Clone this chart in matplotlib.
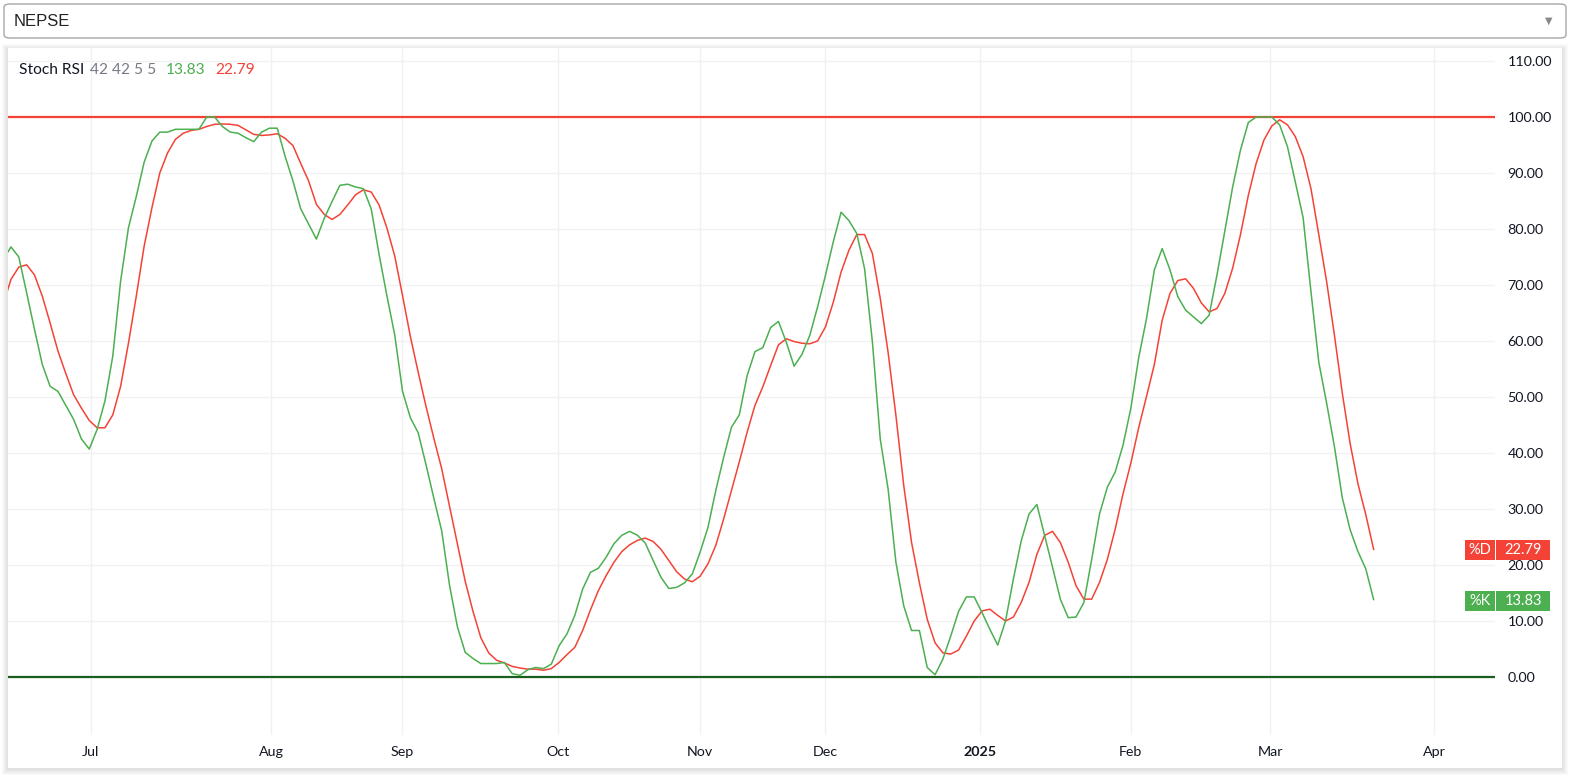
# -*- coding: utf-8 -*-
"""Gráfico Stoch RSI del NEPSE con las líneas %K y %D."""
import numpy as np
import matplotlib.pyplot as plt
from matplotlib.patches import Rectangle, FancyBboxPatch
from matplotlib.transforms import blended_transform_factory

ANCHO = 1571
ALTO = 777

# %K (verde), una barra por sesión; la primera queda cortada por el borde izquierdo
serie_k = [
    74.5, 76.8, 75.0, 68.6, 62.1, 55.8, 51.9, 51.0, 48.5, 46.0,
    42.5, 40.7, 44.2, 49.3, 57.3, 70.7, 80.2, 85.8, 91.9, 95.7,
    97.3, 97.3, 97.8, 97.8, 97.8, 97.8, 100.0, 100.0, 98.3, 97.3,
    97.1, 96.3, 95.6, 97.3, 98.0, 98.0, 93.0, 88.6, 83.6, 80.9,
    78.2, 81.9, 84.9, 87.8, 88.0, 87.5, 87.2, 83.6, 75.5, 68.1,
    61.1, 51.0, 46.3, 43.6, 37.9, 31.9, 26.1, 16.4, 9.0, 4.4,
    3.3, 2.4, 2.4, 2.4, 2.6, 0.6, 0.3, 1.3, 1.7, 1.5,
    2.3, 5.6, 7.7, 11.0, 15.7, 18.7, 19.4, 21.4, 23.8, 25.3,
    26.0, 25.3, 23.9, 20.8, 17.8, 15.8, 16.0, 16.8, 18.4, 22.3,
    26.7, 33.3, 39.2, 44.6, 46.8, 53.8, 58.1, 58.8, 62.4, 63.5,
    59.8, 55.5, 57.6, 61.0, 66.1, 71.7, 77.7, 83.0, 81.5, 79.2,
    72.9, 59.8, 42.5, 33.6, 20.5, 12.7, 8.3, 8.3, 1.7, 0.4,
    3.2, 7.3, 11.7, 14.3, 14.3, 11.5, 8.5, 5.7, 10.0, 17.5,
    24.3, 29.1, 30.8, 25.2, 19.6, 13.9, 10.6, 10.7, 13.3, 21.0,
    29.1, 33.9, 36.6, 41.4, 48.0, 57.0, 64.0, 72.7, 76.5, 72.7,
    67.9, 65.5, 64.3, 63.1, 64.6, 71.8, 79.6, 87.5, 94.1, 99.0,
    100.0, 100.0, 100.0, 98.6, 94.7, 88.4, 82.0, 68.8, 56.2, 48.9,
    41.1, 32.0, 26.3, 22.4, 19.3, 13.83,
]

# %D (rojo)
serie_d = [
    66.5, 71.0, 73.2, 73.6, 71.8, 68.0, 63.2, 58.2, 54.2, 50.4,
    48.0, 45.8, 44.5, 44.5, 46.8, 51.9, 59.6, 68.0, 76.9, 83.8,
    90.0, 93.6, 96.0, 97.1, 97.6, 97.8, 98.3, 98.7, 98.75, 98.7,
    98.5, 97.7, 96.9, 96.7, 96.8, 97.0, 96.2, 94.9, 91.7, 88.6,
    84.4, 82.6, 81.7, 82.6, 84.3, 86.1, 87.0, 86.6, 84.3, 80.2,
    75.2, 68.1, 60.8, 54.4, 48.3, 42.6, 37.2, 30.5, 23.8, 17.1,
    11.7, 7.0, 4.3, 3.0, 2.5, 1.9, 1.6, 1.4, 1.4, 1.2,
    1.5, 2.6, 4.0, 5.3, 8.3, 12.0, 15.4, 18.1, 20.5, 22.4,
    23.6, 24.4, 24.8, 24.2, 22.8, 20.8, 18.8, 17.5, 17.0, 18.0,
    20.2, 23.5, 28.2, 33.3, 38.4, 43.7, 48.5, 51.8, 55.6, 59.3,
    60.4, 59.9, 59.6, 59.5, 60.0, 62.5, 66.9, 72.3, 76.2, 79.0,
    79.0, 75.6, 67.6, 58.0, 46.7, 34.2, 24.0, 16.8, 10.3, 6.1,
    4.3, 4.1, 4.8, 7.3, 10.0, 11.8, 12.1, 11.0, 10.0, 10.7,
    13.3, 16.9, 21.9, 25.3, 26.0, 24.0, 20.5, 16.3, 13.9, 13.9,
    16.9, 21.0, 26.4, 32.7, 38.2, 44.5, 50.1, 55.8, 63.7, 68.5,
    70.8, 71.1, 69.4, 66.8, 65.2, 65.8, 68.5, 73.0, 79.0, 86.0,
    91.7, 95.9, 98.4, 99.5, 98.6, 96.5, 92.9, 87.2, 79.0, 70.6,
    61.0, 50.7, 41.7, 34.5, 29.0, 22.79,
]

meses = ['Jul', 'Aug', 'Sep', 'Oct', 'Nov', 'Dec', '2025', 'Feb', 'Mar', 'Apr']
barra_mes = [11.2, 34.2, 50.9, 70.9, 89.0, 105.0, 124.8, 144.0, 161.8, 182.7]
niveles = list(range(0, 111, 10))
nivel_alto = 100
nivel_bajo = 0
parametros = '42 42 5 5'
ultimo_k = serie_k[-1]
ultimo_d = serie_d[-1]

VERDE = '#4caf50'
ROJO = '#f44336'
TEXTO = '#131722'
FUENTE = ['Lato', 'DejaVu Sans']


def fx(px):
    return px / ANCHO


def fy(py):
    return 1 - py / ALTO


plt.rcParams['font.family'] = FUENTE
fig = plt.figure(figsize=(ANCHO / 100, ALTO / 100), dpi=100)
fig.patch.set_facecolor('white')

# selector superior
selector = FancyBboxPatch((fx(4), fy(38)), fx(1566) - fx(4), fy(4) - fy(38),
                          boxstyle='round,pad=0,rounding_size=0.004',
                          transform=fig.transFigure, facecolor='white',
                          edgecolor='#a6a6a6', lw=1.0)
fig.patches.append(selector)
fig.text(fx(14), fy(21), 'NEPSE', fontsize=12, color='#222222',
         family=['Liberation Sans', 'DejaVu Sans'], va='center', ha='left')
fig.text(fx(1549), fy(21), '▼', fontsize=7, color='#888888',
         family='DejaVu Sans', va='center', ha='center')

# panel del gráfico con una sombra suave, algo más marcada abajo
for k in range(6):
    d = 6 - k
    sombra = Rectangle((fx(8 - d), fy(768 + d + 1)), fx(1562 + d) - fx(8 - d),
                       fy(48 - d + 2) - fy(768 + d + 1), transform=fig.transFigure,
                       facecolor='black', alpha=0.018, edgecolor='none', zorder=-3)
    fig.patches.append(sombra)
panel = Rectangle((fx(8), fy(768)), fx(1562) - fx(8), fy(48) - fy(768),
                  transform=fig.transFigure, facecolor='white',
                  edgecolor='none', zorder=-2)
fig.patches.append(panel)

ax = fig.add_axes([fx(8), fy(735), fx(1495) - fx(8), fy(48) - fy(735)])
ax.set_facecolor('none')
x = np.arange(len(serie_k))
ax.set_xlim(0.62, 190.5)
ax.set_ylim(-10.36, 112.32)

ax.axhline(nivel_alto, color=ROJO, lw=1.6, zorder=2)
ax.axhline(nivel_bajo, color='#1b5e20', lw=1.6, zorder=2)
ax.plot(x, serie_d, color=ROJO, lw=1.1, zorder=3)
ax.plot(x, serie_k, color=VERDE, lw=1.1, zorder=4)

ax.set_yticks(niveles)
ax.set_yticklabels(['%.2f' % v for v in niveles])
ax.yaxis.tick_right()
ax.set_xticks(barra_mes)
ax.set_xticklabels(meses)
ax.tick_params(axis='y', length=0, pad=9, labelsize=10.3, labelcolor=TEXTO)
ax.tick_params(axis='x', length=0, pad=8, labelsize=10.3, labelcolor=TEXTO)
ax.get_xticklabels()[meses.index('2025')].set_fontweight('bold')
ax.grid(True, color='#f0f1f3', lw=1.0, zorder=0)
for s in ax.spines.values():
    s.set_visible(False)

# leyenda superior
y_ley = fy(70)
fig.text(fx(19), y_ley, 'Stoch RSI', fontsize=11.2, color=TEXTO, va='center')
fig.text(fx(90), y_ley, parametros, fontsize=11.2, color='#787b86', va='center')
fig.text(fx(166), y_ley, '%.2f' % ultimo_k, fontsize=11.2, color=VERDE, va='center')
fig.text(fx(215), y_ley, '%.2f' % ultimo_d, fontsize=11.2, color=ROJO, va='center')

# etiquetas de último valor en la escala
mezcla = blended_transform_factory(fig.transFigure, ax.transData)
alto = 20 / 5.6
for nombre, valor, color in [('%D', ultimo_d, ROJO), ('%K', ultimo_k, VERDE)]:
    yc = valor - 0.2
    fig.patches.append(Rectangle((fx(1465), yc - alto / 2), fx(1495) - fx(1465), alto,
                                 transform=mezcla, facecolor=color,
                                 edgecolor='none', zorder=5))
    fig.patches.append(Rectangle((fx(1496), yc - alto / 2), fx(1550) - fx(1496), alto,
                                 transform=mezcla, facecolor=color,
                                 edgecolor='none', zorder=5))
    fig.text(fx(1480), yc, nombre, transform=mezcla, fontsize=10.5, color='white',
             ha='center', va='center', zorder=6)
    fig.text(fx(1523), yc, '%.2f' % valor, transform=mezcla, fontsize=10.5,
             color='white', ha='center', va='center', zorder=6)

fig.savefig('out.png', dpi=100)
